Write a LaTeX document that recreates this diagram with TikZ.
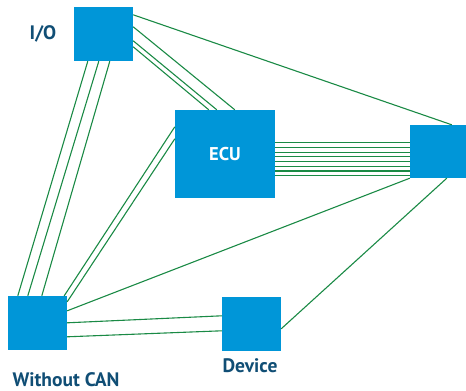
\documentclass[tikz,border=0pt]{standalone}
\usepackage{fontspec}
\setmainfont{PT Sans}
\usetikzlibrary{calc}
\definecolor{boxblue}{HTML}{0096D8}
\definecolor{labelblue}{HTML}{104E75}
\definecolor{wire}{HTML}{1A8A45}
\tikzset{
  dev/.style={fill=boxblue, draw=none, inner sep=0pt, font=\bfseries\fontsize{18.5}{21}\selectfont, text=white},
  lbl/.style={inner sep=0pt, font=\bfseries\fontsize{19.5}{22}\selectfont, text=labelblue},
  w/.style={draw=wire, line width=1.1pt}
}
\begin{document}
\begin{tikzpicture}[x=1pt,y=-1pt]
\useasboundingbox (0,0) rectangle (466,391);
\node[dev, minimum width=59pt, minimum height=54pt] (io) at (103.5,34) {};
\node[dev, minimum width=100pt, minimum height=88pt] (ecu) at (225,154) {ECU};
\node[dev, minimum width=56pt, minimum height=53pt] (rb) at (438,151.5) {};
\node[dev, minimum width=59pt, minimum height=54pt] (wc) at (37.5,323) {};
\node[dev, minimum width=59pt, minimum height=54pt] (devc) at (251.5,324) {};
\node[lbl] (iol) at (43,34) {I/O};
\node[lbl] (devl) at (250,366) {Device};
\node[lbl] (wcl) at (66,380) {Without CAN};
% I/O connections
\draw[w] ($(io.north east)+(0,8)$) -- ($(rb.north west)+(42,0)$);
\draw[w] ($(io.north east)+(0,20)$) -- ($(ecu.north west)+(60,0)$);
\draw[w] ($(io.north east)+(0,34)$) -- ($(ecu.north west)+(42,0)$);
\draw[w] ($(io.north east)+(0,40)$) -- ($(ecu.north west)+(34,0)$);
\draw[w] ($(io.south west)+(14,0)$) -- ($(wc.north west)+(10,0)$);
\draw[w] ($(io.south west)+(25,0)$) -- ($(wc.north west)+(20,0)$);
\draw[w] ($(io.south west)+(36,0)$) -- ($(wc.north west)+(34,0)$);
% ECU to Without CAN
\draw[w] ($(ecu.north west)+(0,17)$) -- ($(wc.north east)+(-3,0)$);
\draw[w] ($(ecu.north west)+(0,29)$) -- ($(wc.north east)+(0,6)$);
% right box to Without CAN
\draw[w] (rb.south west) -- ($(wc.north east)+(0,15)$);
% Without CAN to Device
\draw[w] ($(wc.north east)+(0,27)$) -- ($(devc.north west)+(0,19)$);
\draw[w] ($(wc.north east)+(0,41)$) -- ($(devc.north west)+(0,34)$);
% Device to right box
\draw[w] ($(devc.north east)+(0,32)$) -- ($(rb.south west)+(37,0)$);
% bus ECU to right box
\foreach \i in {0,...,7}
  \draw[w] ($(ecu.north east)+(0,33+4.7*\i)$) -- ($(rb.north west)+(0,18+4.7*\i)$);
\end{tikzpicture}
\end{document}
